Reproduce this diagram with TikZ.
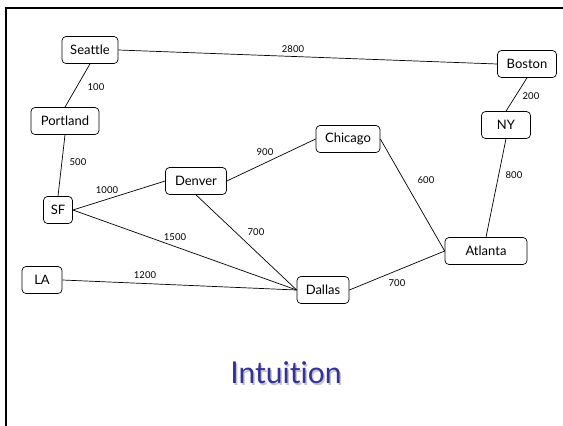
\documentclass[tikz,border=0pt]{standalone}
\usepackage{fontspec}
\setmainfont[Ligatures={NoCommon}]{Lato}
\begin{document}
\begin{tikzpicture}[x=1pt,y=-1pt,
  city/.style={draw, line width=0.7pt, rounded corners=4pt, fill=white,
    font=\fontsize{13}{15}\selectfont, minimum height=27pt, inner xsep=3pt},
  road/.style={line width=0.7pt},
  dist/.style={font=\fontsize{9.5}{11}\selectfont, inner sep=0pt}]
\useasboundingbox (0,0) rectangle (563,426);
% slide frame
\draw[line width=2.2pt] (6,426) -- (6,8) -- (563,8);

% cities
\node[city, minimum width=56pt] (sea) at (90,50) {Seattle};
\node[city, minimum width=68pt] (por) at (65,121) {Portland};
\node[city, minimum width=29pt] (sf) at (58,210) {SF};
\node[city, minimum width=40pt] (la) at (42,280) {LA};
\node[city, minimum width=61pt] (den) at (196,181) {Denver};
\node[city, minimum width=64pt] (chi) at (348,139) {Chicago};
\node[city, minimum width=59pt] (bos) at (527,64) {Boston};
\node[city, minimum width=49pt] (ny) at (506,125) {NY};
\node[city, minimum width=82pt] (atl) at (486,251) {Atlanta};
\node[city, minimum width=52pt] (dal) at (323,290) {Dallas};

% roads
\draw[road] (sea.east) -- (bos.west);
\draw[road] (sea.south) -- (por.north);
\draw[road] (por.south) -- (sf.north);
\draw[road] (sf.east) -- (den.west);
\draw[road] (sf.east) -- (dal.west);
\draw[road] (la.east) -- (dal.west);
\draw[road] (den.south) -- (dal.west);
\draw[road] (den.east) -- (chi.west);
\draw[road] (chi.east) -- (atl.west);
\draw[road] (dal.east) -- (atl.west);
\draw[road] (ny.south) -- (atl.north);
\draw[road] (bos.south) -- (ny.north);

% distances
\node[dist] (d1) at (293,49) {2800};
\node[dist] (d2) at (96,87) {100};
\node[dist] (d3) at (78,162) {500};
\node[dist] (d4) at (107,190) {1000};
\node[dist] (d5) at (265,152) {900};
\node[dist] (d6) at (531,96) {200};
\node[dist] (d7) at (426,180) {600};
\node[dist] (d8) at (514,175) {800};
\node[dist] (d9) at (175,237) {1500};
\node[dist] (d10) at (256,232) {700};
\node[dist] (d11) at (145,275) {1200};
\node[dist] (d12) at (397,283) {700};

% title with soft shadow
\definecolor{titleblue}{RGB}{50,50,152}
\node[font=\fontsize{30}{34}\selectfont, text=black!45, opacity=0.5] (tshadow) at (287.5,374.5) {Intuition};
\node[font=\fontsize{30}{34}\selectfont, text=titleblue] (title) at (286,373) {Intuition};
\end{tikzpicture}
\end{document}
